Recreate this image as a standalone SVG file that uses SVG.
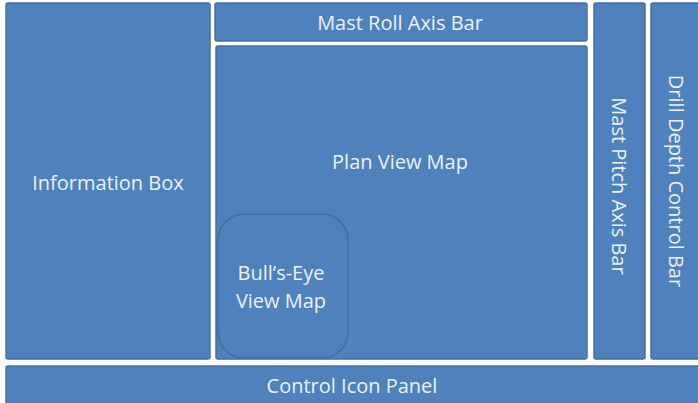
<svg xmlns="http://www.w3.org/2000/svg" width="698" height="403" viewBox="0 0 698 403">
<style>
.b{fill:#4f81bd;stroke:#41709f;stroke-width:1.5}
.t{fill:#eef2f8;font-family:"Open Sans","Liberation Sans",sans-serif;font-size:20px;text-anchor:middle;dominant-baseline:central}
</style>
<rect width="698" height="403" fill="#ffffff"/>
<g id="information-box"><rect class="b" x="6" y="3" width="204" height="356" rx="2"/><text class="t" x="108" y="182">Information Box</text></g>
<g id="mast-roll-axis-bar"><rect class="b" x="215" y="3" width="372" height="38" rx="2"/><text class="t" x="400" y="22">Mast Roll Axis Bar</text></g>
<g id="plan-view-map"><rect class="b" x="216" y="46" width="371" height="313" rx="2"/><text class="t" x="400" y="161">Plan View Map</text></g>
<g id="bulls-eye-view-map"><rect class="b" x="218" y="214" width="130" height="144" rx="26"/><text class="t" x="281" y="272">Bull’s-Eye</text><text class="t" x="281" y="300">View Map</text></g>
<g id="mast-pitch-axis-bar"><rect class="b" x="594" y="3" width="51" height="356" rx="2"/><text class="t" transform="translate(619,186) rotate(90)">Mast Pitch Axis Bar</text></g>
<g id="drill-depth-control-bar"><rect class="b" x="651" y="3" width="50" height="356" rx="2"/><text class="t" transform="translate(676,181) rotate(90)">Drill Depth Control Bar</text></g>
<g id="control-icon-panel"><rect class="b" x="6" y="366" width="695" height="40" rx="2"/><text class="t" x="352" y="385">Control Icon Panel</text></g>
<g id="connectors"/>
</svg>
